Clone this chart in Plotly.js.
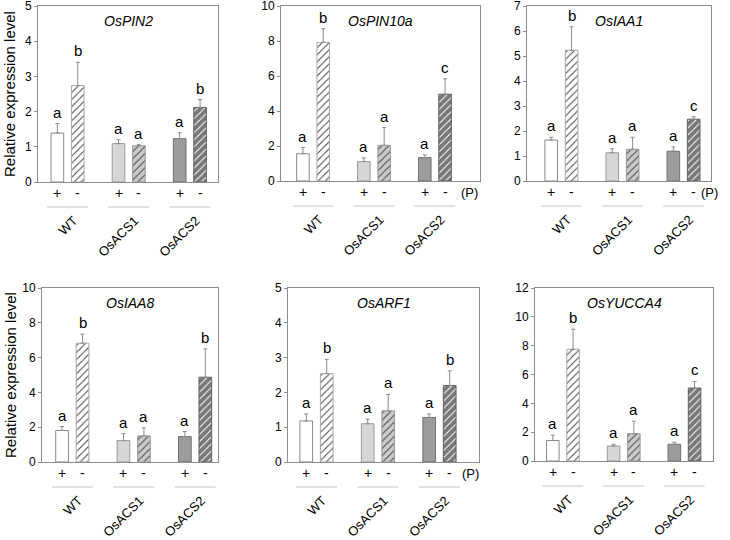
<!DOCTYPE html>
<html>
<head>
<meta charset="utf-8">
<script src="https://cdn.plot.ly/plotly-3.0.1.min.js"></script>
<style>html,body{margin:0;padding:0;background:#fff;}#chart{width:730px;height:540px;}</style>
</head>
<body>
<div id="chart"></div>
<script>
// ---- data ----
const genes = ['OsPIN2', 'OsPIN10a', 'OsIAA1', 'OsIAA8', 'OsARF1', 'OsYUCCA4'];
const lines = ['WT', 'OsACS1', 'OsACS2'];
const phosphate = ['+', '-'];

// bar order: WT+, WT-, OsACS1+, OsACS1-, OsACS2+, OsACS2-
const pin2Mean   = [1.39, 2.74, 1.09, 1.03, 1.23, 2.12];
const pin2SE     = [0.27, 0.66, 0.11, 0.03, 0.17, 0.22];
const pin2Letter = ['a', 'b', 'a', 'a', 'a', 'b'];

const pin10aMean   = [1.56, 7.92, 1.11, 2.04, 1.34, 4.96];
const pin10aSE     = [0.35, 0.78, 0.21, 1.01, 0.15, 0.88];
const pin10aLetter = ['a', 'b', 'a', 'a', 'a', 'c'];

const iaa1Mean   = [1.64, 5.23, 1.13, 1.27, 1.19, 2.47];
const iaa1SE     = [0.11, 0.94, 0.16, 0.48, 0.17, 0.10];
const iaa1Letter = ['a', 'b', 'a', 'a', 'a', 'c'];

const iaa8Mean   = [1.81, 6.83, 1.23, 1.50, 1.46, 4.87];
const iaa8SE     = [0.23, 0.52, 0.40, 0.46, 0.29, 1.63];
const iaa8Letter = ['a', 'b', 'a', 'a', 'a', 'b'];

const arf1Mean   = [1.18, 2.54, 1.10, 1.47, 1.28, 2.20];
const arf1SE     = [0.20, 0.41, 0.13, 0.47, 0.10, 0.42];
const arf1Letter = ['a', 'b', 'a', 'a', 'a', 'b'];

const yucca4Mean   = [1.42, 7.75, 1.04, 1.90, 1.16, 5.06];
const yucca4SE     = [0.37, 1.39, 0.12, 0.86, 0.14, 0.46];
const yucca4Letter = ['a', 'b', 'a', 'a', 'a', 'c'];

const yMax  = [5, 10, 7, 10, 5, 12];
const yStep = [1, 2, 1, 2, 1, 2];

// ---- layout / style (not data) ----
const W = 730, H = 540;
const rects = [ // [left, right, top, bottom] in px
  [38, 218, 6, 182],
  [281, 480, 6, 181],
  [527, 711, 6, 181],
  [42, 218, 288, 462],
  [288, 479, 288, 462],
  [535, 713, 288, 461]
];
const xRanges = [[0.05, 8.88], [-0.08, 9.72], [-0.19, 8.85], [0.02, 8.62], [0.11, 9.43], [0.12, 8.91]];
const pLabelX = [9.13, 9.18, 8.78, 9.06, 9.02, 9.19];
const labelShift = 0.3;

const fillColors = ['#ffffff', '#ffffff', '#d6d6d6', '#cacaca', '#9c9c9c', '#787878'];
const hatchShapes = ['', '/', '', '/', '', '/'];
const hatchColors = ['#ffffff', '#a0a0a0', '#d6d6d6', '#8a8a8a', '#9c9c9c', '#484848'];
const outlineColors = ['#8a8a8a', '#a8a8a8', '#9a9a9a', '#9a9a9a', '#707070', '#606060'];

const means = [pin2Mean, pin10aMean, iaa1Mean, iaa8Mean, arf1Mean, yucca4Mean];
const ses = [pin2SE, pin10aSE, iaa1SE, iaa8SE, arf1SE, yucca4SE];
const letters = [pin2Letter, pin10aLetter, iaa1Letter, iaa8Letter, arf1Letter, yucca4Letter];

const FONT = 'Liberation Sans, Arial, sans-serif';
const NARROW = 'Liberation Sans Narrow, Liberation Sans, Arial, sans-serif';

// slot of each bar on the numeric x axis (group * 3 + condition + 1)
const slots = [];
lines.forEach((ln, g) => phosphate.forEach((p, c) => slots.push(g * 3 + c + 1)));
const groupCenters = lines.map((ln, g) => g * 3 + 1.5);

const data = [];
const layout = {
  width: W, height: H,
  margin: {l: 0, r: 0, t: 0, b: 0},
  paper_bgcolor: '#ffffff', plot_bgcolor: '#ffffff',
  showlegend: false,
  annotations: [], shapes: [],
  font: {family: FONT, color: '#000'}
};

genes.forEach((gene, i) => {
  const k = i + 1;
  const xa = 'x' + (k === 1 ? '' : k), ya = 'y' + (k === 1 ? '' : k);
  const xk = 'xaxis' + (k === 1 ? '' : k), yk = 'yaxis' + (k === 1 ? '' : k);
  const [l, r, t, b] = rects[i];

  data.push({
    type: 'bar', x: slots, y: means[i], xaxis: xa, yaxis: ya, width: 0.62,
    marker: {
      color: fillColors,
      line: {color: outlineColors, width: 1},
      pattern: {shape: hatchShapes, fgcolor: hatchColors, fillmode: 'overlay',
                size: 5, solidity: 0.2, fgopacity: 1}
    },
    error_y: {type: 'data', symmetric: false, array: ses[i], arrayminus: ses[i].map(() => 0),
              color: '#8c8c8c', thickness: 1, width: 2},
    hoverinfo: 'skip'
  });

  layout[xk] = {
    domain: [l / W, r / W], anchor: ya, range: xRanges[i],
    showline: true, mirror: true, linecolor: '#8c8c8c', linewidth: 1,
    showgrid: false, zeroline: false, ticks: '',
    tickmode: 'array', tickvals: groupCenters.map(c => c + labelShift), ticktext: lines, tickangle: -45,
    ticklabelstandoff: 25,
    tickfont: {family: FONT, size: 13, color: '#000'}
  };
  layout[yk] = {
    domain: [1 - b / H, 1 - t / H], anchor: xa, range: [0, yMax[i]], dtick: yStep[i], tick0: 0,
    showline: true, mirror: true, linecolor: '#8c8c8c', linewidth: 1,
    showgrid: false, zeroline: false, ticks: 'outside', ticklen: 3, tickcolor: '#8c8c8c',
    ticklabeloverflow: 'allow',
    tickfont: {family: NARROW, size: 12, color: '#000'}
  };

  // gene name
  layout.annotations.push({xref: xa + ' domain', yref: ya + ' domain', x: 0.5, y: 1, yshift: -15,
    xanchor: 'center', yanchor: 'middle', showarrow: false, text: gene,
    font: {family: FONT, size: 14, style: 'italic'}});
  // letters + P signs
  slots.forEach((s, j) => {
    layout.annotations.push({xref: xa, yref: ya, x: s, y: means[i][j] + ses[i][j], yshift: 1,
      xanchor: 'center', yanchor: 'bottom', showarrow: false, text: letters[i][j],
      font: {family: FONT, size: 15}});
    layout.annotations.push({xref: xa, yref: ya + ' domain', x: s, y: 0, yshift: -11,
      xanchor: 'center', yanchor: 'middle', showarrow: false, text: phosphate[j % 2],
      font: {family: FONT, size: 14}});
  });
  layout.annotations.push({xref: xa, yref: ya + ' domain', x: pLabelX[i], y: 0, yshift: -11,
    xanchor: 'center', yanchor: 'middle', showarrow: false, text: '(P)',
    font: {family: FONT, size: 13}});
  // underline under each pair
  groupCenters.forEach(gc => {
    layout.shapes.push({type: 'line', xref: xa, yref: ya + ' domain', x0: gc - 1, x1: gc + 1,
      y0: -25 / (b - t), y1: -25 / (b - t), line: {color: '#c4c4c4', width: 1}});
  });
});

// y axis titles (left column)
[0, 3].forEach(i => {
  const [l, r, t, b] = rects[i];
  layout.annotations.push({xref: 'paper', yref: 'paper', x: 10 / W, y: 1 - (t + b) / 2 / H,
    xanchor: 'center', yanchor: 'middle', textangle: -90, showarrow: false,
    text: 'Relative expression level', font: {family: FONT, size: 15}});
});

Plotly.newPlot('chart', data, layout, {displayModeBar: false, staticPlot: true});
</script>
</body>
</html>
